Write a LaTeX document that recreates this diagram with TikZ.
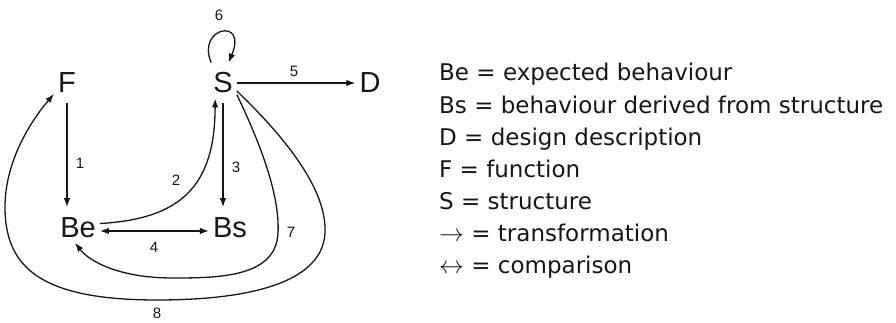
\documentclass[tikz,border=0pt]{standalone}
\usepackage{fontspec}
\setmainfont{Liberation Sans}
\newfontfamily\keyfont{DejaVu Sans}
\usetikzlibrary{arrows.meta}
\definecolor{fbsInk}{RGB}{22,22,22}

\begin{document}
\begin{tikzpicture}[x=1pt,y=1pt,
    fbsTerm/.style={font=\fontsize{29}{32}\selectfont,text=fbsInk,inner xsep=4pt,inner ysep=10pt},
    fbsNum/.style={font=\fontsize{15}{17}\selectfont,text=fbsInk,inner sep=0pt},
    fbsKey/.style={font=\keyfont\fontsize{23}{26}\selectfont,text=fbsInk,anchor=base west,inner sep=0pt},
    fbsArrow/.style={draw=fbsInk,line width=1.3pt,-{Latex[length=9pt,width=6.5pt]}}]
    \useasboundingbox (0,0) rectangle (896,322);
    \node[fbsTerm] (F) at (67,239) {F};
    \node[fbsTerm] (S) at (223,239) {S};
    \node[fbsTerm] (D) at (370,239) {D};
    \node[fbsTerm] (Be) at (78,94.5) {Be};
    \node[fbsTerm] (Bs) at (230,94.5) {Bs};
    \draw[fbsArrow] (F.south) -- (F.south |- Be.north);
    \draw[fbsArrow] ([yshift=4pt]Be.east)
      .. controls (180,103) and (215,135) .. ([shift={(6pt,5pt)}]S.south west);
    \draw[fbsArrow] (S.south) -- (S.south |- Bs.north);
    \draw[fbsArrow,{Latex[length=9pt,width=6.5pt]}-{Latex[length=9pt,width=6.5pt]}]
      ([yshift=-3.5pt]Be.east) -- ([yshift=-3.5pt]Be.east -| Bs.west);
    \draw[fbsArrow] (S.east) -- (D.west);
    \draw[fbsArrow] (S.120) .. controls (196,295) and (248,305) .. (S.75);
    \draw[fbsArrow] (S.-40) .. controls (262,175) and (280,125) .. (278,89)
      .. controls (276,45) and (220,44) .. (173,44)
      .. controls (120,44) and (90,60) .. ([shift={(-3pt,5pt)}]Be.south);
    \draw[fbsArrow] (S.-30) .. controls (290,180) and (327,130) .. (325,89)
      .. controls (322,30) and (220,22) .. (157,22)
      .. controls (40,22) and (5,55) .. (5,115)
      .. controls (5,160) and (30,200) .. (F.-140);
    \node[fbsNum] (n1) at (80,159) {1};
    \node[fbsNum] (n2) at (176,142) {2};
    \node[fbsNum] (n3) at (236,155) {3};
    \node[fbsNum] (n4) at (154,75) {4};
    \node[fbsNum] (n5) at (294,251) {5};
    \node[fbsNum] (n6) at (219,307) {6};
    \node[fbsNum] (n7) at (291,90) {7};
    \node[fbsNum] (n8) at (157,9) {8};
    \foreach \i/\txt in {0/Be = expected behaviour,1/Bs = behaviour derived from structure,
                         2/D = design description,3/F = function,4/S = structure,
                         5/$\rightarrow$ = transformation,6/$\leftrightarrow$ = comparison}
      {\node[fbsKey] (key\i) at (439,{241-\i*32}) {\txt};}
  \end{tikzpicture}
\end{document}
